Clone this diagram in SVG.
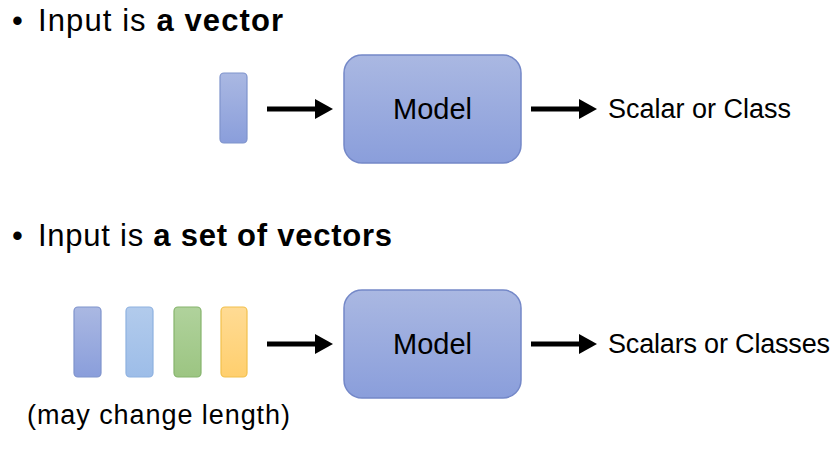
<svg xmlns="http://www.w3.org/2000/svg" width="840" height="457" viewBox="0 0 840 457">
<defs>
<linearGradient id="gBlue" x1="0" y1="0" x2="0" y2="1"><stop offset="0" stop-color="#aab8e2"/><stop offset="1" stop-color="#8a9edb"/></linearGradient>
<linearGradient id="gLight" x1="0" y1="0" x2="0" y2="1"><stop offset="0" stop-color="#b2cbec"/><stop offset="1" stop-color="#9dbde8"/></linearGradient>
<linearGradient id="gGreen" x1="0" y1="0" x2="0" y2="1"><stop offset="0" stop-color="#b0d29c"/><stop offset="1" stop-color="#9cc582"/></linearGradient>
<linearGradient id="gOrange" x1="0" y1="0" x2="0" y2="1"><stop offset="0" stop-color="#ffdb94"/><stop offset="1" stop-color="#ffcf6e"/></linearGradient>
<marker id="ah" markerWidth="4" markerHeight="4" refX="0" refY="2" orient="auto" markerUnits="strokeWidth"><path d="M0,0 L3.6,2 L0,4 Z" fill="#000"/></marker>
</defs>
<style>
text{font-family:"Liberation Sans",Arial,sans-serif;fill:#000}
.h{font-size:31px}
.l{font-size:27px}
.m{font-size:29px}
.box{fill:url(#gBlue);stroke:#7488c8;stroke-width:1.5}
.conn{stroke:#000;stroke-width:5;fill:none;marker-end:url(#ah)}
</style>
<g id="heading1"><text class="h" x="12" y="31">•</text><text class="h" x="38" y="31" textLength="245">Input is <tspan font-weight="bold">a vector</tspan></text></g>
<g id="heading2"><text class="h" x="12" y="246">•</text><text class="h" x="38" y="246" textLength="354">Input is <tspan font-weight="bold">a set of vectors</tspan></text></g>

<g id="vec1"><rect x="220" y="73" width="27" height="70" rx="4" fill="url(#gBlue)" stroke="#7f93cc" stroke-width="1.2"/></g>
<g id="model1"><rect class="box" x="344" y="55" width="177" height="108" rx="18"/><text class="m" x="432.5" y="119" text-anchor="middle">Model</text></g>
<g id="out1"><text class="l" x="608" y="118" textLength="183">Scalar or Class</text></g>

<g id="vecA"><rect x="74" y="307" width="27" height="70" rx="4" fill="url(#gBlue)" stroke="#7f93cc" stroke-width="1.2"/></g>
<g id="vecB"><rect x="126" y="307" width="27" height="70" rx="4" fill="url(#gLight)" stroke="#8eb1e0" stroke-width="1.2"/></g>
<g id="vecC"><rect x="174" y="307" width="27" height="70" rx="4" fill="url(#gGreen)" stroke="#85b46c" stroke-width="1.2"/></g>
<g id="vecD"><rect x="221" y="307" width="26" height="70" rx="4" fill="url(#gOrange)" stroke="#f2c04c" stroke-width="1.2"/></g>
<g id="note"><text class="l" x="27" y="424" textLength="263">(may change length)</text></g>
<g id="model2"><rect class="box" x="344" y="290" width="177" height="108" rx="18"/><text class="m" x="432.5" y="354" text-anchor="middle">Model</text></g>
<g id="out2"><text class="l" x="608" y="353" textLength="222">Scalars or Classes</text></g>

<g id="connectors">
<line class="conn" x1="267" y1="109" x2="315" y2="109"/>
<line class="conn" x1="531" y1="109" x2="579" y2="109"/>
<line class="conn" x1="267" y1="344" x2="315" y2="344"/>
<line class="conn" x1="531" y1="344" x2="579" y2="344"/>
</g>
</svg>
